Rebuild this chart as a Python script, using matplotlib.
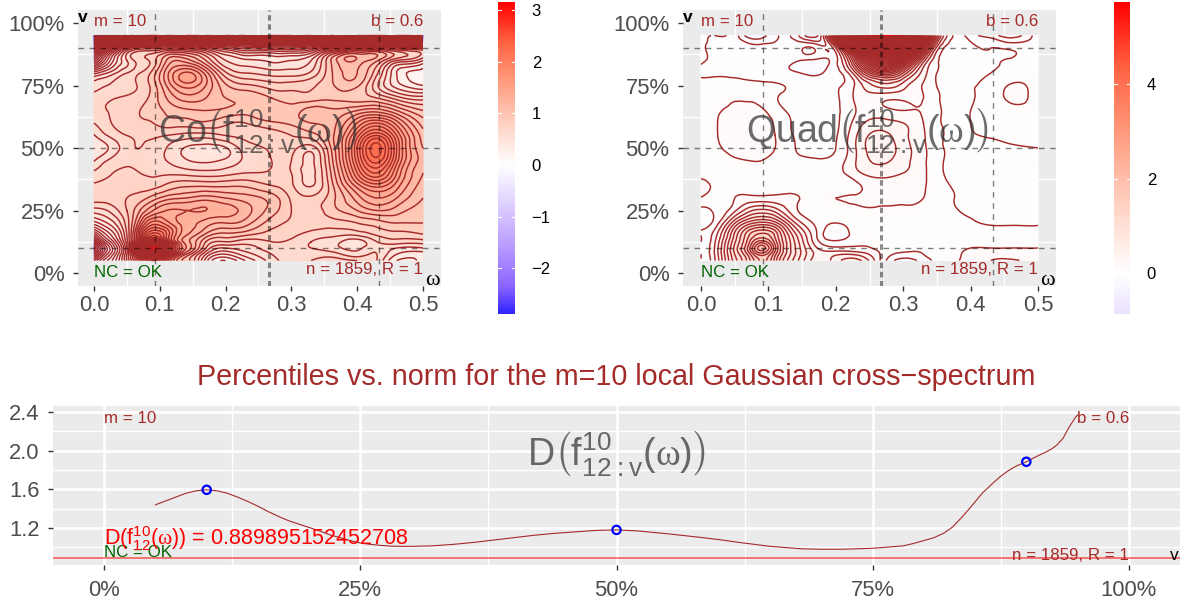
"""Local Gaussian cross-spectrum: Co and Quad heatmaps over the percentile norm plot."""

import matplotlib

matplotlib.use("Agg")

import matplotlib.pyplot as plt
import matplotlib.tri as mtri
import numpy as np
from matplotlib.cm import ScalarMappable
from matplotlib.colors import LinearSegmentedColormap, Normalize

W, H = 1180, 606
BROWN = "#A52A2A"
PANEL = "#EBEBEB"
GREY = "#4D4D4D"

OMEGA = [0, 0.02, 0.05, 0.07, 0.09, 0.11, 0.14, 0.17, 0.2, 0.23, 0.27, 0.3, 0.33, 0.36, 0.4, 0.43, 0.46, 0.5]
LEVEL_V = [0.05, 0.075, 0.10, 0.125, 0.15, 0.20, 0.25, 0.30, 0.35, 0.40, 0.45, 0.50, 0.55, 0.60, 0.65, 0.70, 0.75, 0.80, 0.85, 0.90, 0.925, 0.95]

# one row per entry of LEVEL_V
CO_VALUES = [
    [-0.4, 0.0, 0.6, 1.3, 1.9, 1.4, 0.85, 0.35, 0.1, 0.3, 0.55, 0.65, 0.7, 0.75, 0.7, 0.6, 0.3, 0.35],
    [-0.8, -0.2, 0.6, 1.7, 2.55, 1.85, 1.0, 0.5, 0.3, 0.45, 0.6, 0.65, 0.65, 0.65, 0.55, 0.6, 0.4, 0.35],
    [-1.05, -0.3, 0.6, 2.2, 3.1, 2.35, 1.2, 0.7, 0.5, 0.55, 0.65, 0.65, 0.6, 0.55, 0.47, 0.58, 0.5, 0.5],
    [-0.7, -0.1, 0.65, 1.7, 2.55, 1.9, 1.15, 0.8, 0.7, 0.65, 0.7, 0.68, 0.6, 0.55, 0.45, 0.6, 0.65, 0.65],
    [-0.3, 0.1, 0.7, 1.45, 2.0, 1.7, 1.2, 0.95, 0.85, 0.8, 0.75, 0.72, 0.65, 0.62, 0.6, 0.7, 0.75, 0.78],
    [0.25, 0.4, 0.75, 1.2, 1.55, 1.45, 1.25, 1.15, 1.1, 1.05, 0.85, 0.78, 0.75, 0.75, 0.8, 0.85, 0.9, 0.9],
    [0.55, 0.6, 0.8, 1.0, 1.2, 1.3, 1.3, 1.3, 1.25, 1.15, 0.95, 0.8, 0.75, 0.85, 1.0, 1.1, 1.05, 0.95],
    [0.75, 0.75, 0.8, 0.85, 0.95, 1.05, 1.1, 1.15, 1.1, 1.05, 0.95, 0.78, 0.72, 0.85, 1.15, 1.3, 1.2, 1.0],
    [0.72, 0.74, 0.76, 0.76, 0.76, 0.82, 0.88, 0.88, 0.88, 0.88, 0.8, 0.72, 0.59, 0.85, 1.35, 1.55, 1.35, 1.05],
    [0.62, 0.68, 0.72, 0.7, 0.68, 0.68, 0.66, 0.64, 0.66, 0.7, 0.72, 0.7, 0.57, 0.9, 1.6, 1.9, 1.5, 1.1],
    [0.49, 0.6, 0.68, 0.68, 0.64, 0.6, 0.51, 0.48, 0.52, 0.62, 0.7, 0.7, 0.58, 0.95, 1.75, 2.15, 1.65, 1.15],
    [0.42, 0.49, 0.66, 0.7, 0.66, 0.6, 0.49, 0.46, 0.49, 0.65, 0.72, 0.74, 0.65, 1.0, 1.8, 2.25, 1.7, 1.1],
    [0.49, 0.6, 0.7, 0.72, 0.72, 0.7, 0.66, 0.65, 0.7, 0.72, 0.75, 0.8, 0.85, 1.05, 1.65, 2.0, 1.6, 1.05],
    [0.6, 0.68, 0.75, 0.78, 0.8, 0.85, 0.85, 0.88, 0.82, 0.8, 0.88, 0.92, 1.0, 1.05, 1.4, 1.6, 1.35, 0.95],
    [0.68, 0.7, 0.75, 0.8, 0.85, 0.92, 0.98, 1.0, 0.98, 0.95, 0.98, 0.95, 1.05, 1.02, 1.1, 1.15, 1.0, 0.8],
    [0.65, 0.68, 0.72, 0.75, 0.85, 1.0, 1.15, 1.1, 1.0, 0.98, 0.9, 0.85, 0.85, 0.88, 0.85, 0.8, 0.65, 0.55],
    [0.55, 0.6, 0.65, 0.72, 0.85, 1.1, 1.35, 1.2, 0.92, 0.82, 0.75, 0.75, 0.78, 0.88, 0.92, 0.62, 0.35, 0.2],
    [0.25, 0.4, 0.6, 0.7, 0.85, 1.15, 1.42, 1.15, 0.72, 0.6, 0.55, 0.55, 0.62, 0.88, 1.0, 0.72, 0.3, 0.15],
    [-0.5, 0.0, 0.5, 0.65, 0.75, 1.0, 1.05, 0.8, 0.5, 0.42, 0.38, 0.4, 0.5, 0.9, 1.08, 0.92, 0.6, 0.4],
    [-1.3, -0.6, 0.2, 0.42, 0.45, 0.5, 0.45, 0.3, 0.1, -0.05, -0.1, -0.1, 0.0, 0.25, 0.5, 0.55, 0.4, 0.35],
    [-2.0, -1.5, -0.8, -0.5, -0.4, -0.4, -0.5, -0.6, -0.7, -0.8, -0.9, -0.9, -0.8, -0.8, -0.7, -0.7, -0.8, -0.8],
    [-2.88, -2.6, -2.3, -2.1, -2.0, -2.0, -2.1, -2.2, -2.3, -2.4, -2.4, -2.4, -2.3, -2.3, -2.3, -2.3, -2.4, -2.6],
]

QUAD_VALUES = [
    [0.0, 0.18, 0.75, 1.05, 1.32, 1.05, 0.55, 0.25, 0.35, 0.45, 0.05, -0.15, -0.05, 0.05, 0.13, 0.2, 0.22, 0.13],
    [0.0, 0.2, 0.8, 1.13, 1.45, 1.13, 0.6, 0.28, 0.28, 0.28, 0.07, -0.03, 0.0, 0.05, 0.12, 0.15, 0.14, 0.12],
    [0.0, 0.2, 0.83, 1.23, 1.65, 1.23, 0.6, 0.22, 0.12, 0.12, 0.07, 0.04, 0.03, 0.06, 0.1, 0.1, 0.1, 0.1],
    [0.0, 0.18, 0.78, 1.15, 1.45, 1.15, 0.58, 0.15, 0.02, 0.08, 0.08, 0.07, 0.07, 0.07, 0.07, 0.07, 0.07, 0.07],
    [0.0, 0.15, 0.73, 1.08, 1.25, 1.08, 0.53, 0.12, -0.08, 0.05, 0.07, 0.07, 0.06, 0.05, 0.05, 0.05, 0.05, 0.05],
    [-0.02, 0.03, 0.49, 0.74, 0.83, 0.74, 0.3, 0.08, 0.0, 0.06, 0.07, 0.07, 0.06, 0.04, 0.01, -0.01, -0.01, -0.01],
    [-0.02, 0.01, 0.18, 0.36, 0.43, 0.36, 0.12, 0.06, 0.07, 0.08, 0.09, 0.09, 0.08, 0.03, -0.01, -0.02, -0.02, -0.02],
    [0.09, 0.05, 0.1, 0.13, 0.13, 0.13, 0.11, 0.08, 0.1, 0.11, 0.11, 0.11, 0.1, 0.03, -0.02, -0.03, -0.03, -0.03],
    [0.15, 0.08, 0.05, 0.05, 0.05, 0.05, 0.05, 0.04, 0.05, 0.08, 0.15, 0.14, 0.11, 0.02, -0.02, -0.04, -0.04, -0.04],
    [0.05, 0.05, 0.05, 0.06, 0.07, 0.06, 0.05, 0.04, 0.06, 0.17, 0.24, 0.2, 0.12, 0.0, -0.03, -0.05, -0.05, -0.04],
    [0.04, 0.06, 0.09, 0.1, 0.1, 0.07, 0.02, 0.01, 0.04, 0.2, 0.32, 0.24, 0.12, 0.0, -0.03, -0.05, -0.06, -0.04],
    [0.03, 0.08, 0.12, 0.13, 0.13, 0.1, 0.0, -0.03, 0.0, 0.2, 0.36, 0.25, 0.12, 0.0, -0.02, -0.03, -0.02, 0.0],
    [0.03, 0.09, 0.13, 0.14, 0.14, 0.1, -0.01, -0.04, -0.01, 0.19, 0.33, 0.23, 0.11, 0.0, -0.01, 0.01, 0.03, 0.03],
    [0.03, 0.09, 0.13, 0.14, 0.13, 0.09, -0.02, -0.05, -0.02, 0.14, 0.24, 0.2, 0.1, -0.01, 0.0, 0.03, 0.04, 0.03],
    [0.04, 0.08, 0.12, 0.12, 0.11, 0.05, -0.03, -0.05, -0.02, 0.1, 0.13, 0.1, 0.09, -0.01, 0.0, 0.03, 0.07, 0.05],
    [0.04, 0.05, 0.09, 0.09, 0.07, 0.01, -0.03, -0.05, -0.02, 0.12, 0.13, 0.12, 0.1, -0.02, -0.01, 0.04, 0.12, 0.05],
    [0.05, 0.05, 0.04, 0.03, 0.02, 0.01, -0.02, -0.05, -0.02, 0.12, 0.35, 0.25, 0.09, -0.03, -0.01, 0.03, 0.11, 0.05],
    [-0.02, -0.02, -0.02, -0.03, -0.04, -0.06, -0.09, -0.12, -0.04, 0.3, 0.9, 0.6, 0.15, -0.03, -0.02, 0.0, 0.04, 0.04],
    [0.02, -0.02, -0.02, -0.03, -0.03, -0.05, -0.09, -0.12, -0.03, 0.7, 2.0, 1.4, 0.35, -0.03, -0.03, -0.01, 0.01, 0.02],
    [0.02, -0.02, -0.02, -0.06, -0.05, -0.04, -0.03, -0.02, 0.1, 1.8, 3.6, 3.0, 1.0, 0.0, -0.03, 0.0, 0.02, 0.03],
    [0.02, -0.01, -0.04, -0.12, -0.14, -0.1, -0.08, -0.18, 0.5, 3.0, 5.0, 4.2, 1.5, 0.1, 0.0, 0.04, 0.12, 0.04],
    [0.02, 0.0, -0.05, -0.25, -0.25, -0.12, -0.15, -0.35, 1.0, 3.8, 5.74, 5.0, 2.0, 0.2, 0.05, 0.15, 0.25, 0.03],
]

CO_LIMITS = (-2.88, 3.15)
QUAD_LIMITS = (-0.87, 5.74)
CO_TICKS = [-2, -1, 0, 1, 2, 3]
QUAD_TICKS = [0, 2, 4]

NORM_V = [0.05, 0.06, 0.07, 0.08, 0.09, 0.10, 0.11, 0.12, 0.13, 0.14, 0.15, 0.16, 0.17, 0.18, 0.19, 0.20,
          0.21, 0.22, 0.23, 0.24, 0.25, 0.26, 0.27, 0.28, 0.29, 0.30, 0.32, 0.34, 0.36, 0.38, 0.40, 0.42,
          0.44, 0.46, 0.48, 0.50, 0.52, 0.55, 0.58, 0.60, 0.62, 0.65, 0.68, 0.70, 0.72, 0.75, 0.78, 0.79,
          0.80, 0.81, 0.82, 0.828, 0.837, 0.846, 0.857, 0.868, 0.875, 0.882, 0.89, 0.90, 0.91, 0.918, 0.925,
          0.93, 0.936, 0.941, 0.947, 0.95]
NORM_D = [1.44, 1.48, 1.52, 1.56, 1.585, 1.595, 1.585, 1.56, 1.52, 1.475, 1.425, 1.37, 1.32, 1.275, 1.24, 1.205,
          1.17, 1.13, 1.10, 1.07, 1.045, 1.03, 1.02, 1.012, 1.01, 1.01, 1.015, 1.03, 1.05, 1.075, 1.10, 1.125,
          1.145, 1.16, 1.175, 1.18, 1.17, 1.14, 1.105, 1.08, 1.05, 1.01, 0.985, 0.98, 0.98, 0.99, 1.015, 1.04,
          1.07, 1.10, 1.15, 1.21, 1.31, 1.42, 1.56, 1.67, 1.735, 1.79, 1.84, 1.885, 1.94, 1.98, 2.02,
          2.06, 2.13, 2.23, 2.33, 2.37]
POINT_V = [0.10, 0.50, 0.90]
POINT_D = [1.595, 1.18, 1.885]
D_VALUE = 0.889895152452708

plt.rcParams["font.family"] = ["Liberation Sans", "DejaVu Sans"]
plt.rcParams["mathtext.fontset"] = "custom"
plt.rcParams["mathtext.rm"] = "Liberation Sans"
plt.rcParams["mathtext.bf"] = "Liberation Serif"

# white through to saturated, like a Lab gradient
CMAP = LinearSegmentedColormap.from_list(
    "blue_white_red",
    ["#0000FF", "#8A64FF", "#B89CFF", "#DDCEFF", "#FFFFFF", "#FFD2C4", "#FF9E81", "#FF6545", "#FF0000"],
)


def px_axes(fig, left, right, top, bottom):
    return fig.add_axes([left / W, 1 - bottom / H, (right - left) / W, (bottom - top) / H])


def style_panel(ax, xmajor, xminor, ymajor, yminor):
    ax.set_facecolor(PANEL)
    ax.set_axisbelow(True)
    for spine in ax.spines.values():
        spine.set_visible(False)
    ax.set_xticks(xmajor)
    ax.set_xticks(xminor, minor=True)
    ax.set_yticks(ymajor)
    ax.set_yticks(yminor, minor=True)
    ax.grid(True, which="major", color="white", linewidth=1.9)
    ax.grid(True, which="minor", color="white", linewidth=1.0)
    ax.tick_params(which="major", length=3.8, width=1.0, color="#333333", labelcolor=GREY, labelsize=15.8, pad=3)
    ax.tick_params(axis="y", which="major", pad=6)
    ax.tick_params(which="minor", length=0)


def draw_heatmap(ax, values, limits, title, xlim):
    style_panel(ax, [0, 0.1, 0.2, 0.3, 0.4, 0.5], [0.05, 0.15, 0.25, 0.35, 0.45],
                [0, 0.25, 0.5, 0.75, 1.0], [0.125, 0.375, 0.625, 0.875])
    ax.set_xlim(*xlim)
    ax.set_ylim(-0.052, 1.052)
    ax.set_xticklabels(["0.0", "0.1", "0.2", "0.3", "0.4", "0.5"])
    ax.set_yticklabels(["0%", "25%", "50%", "75%", "100%"])

    gx, gy = np.meshgrid(OMEGA, LEVEL_V)
    tri = mtri.Triangulation(gx.ravel(), gy.ravel())
    fine_tri, fine_z = mtri.UniformTriRefiner(tri).refine_field(np.array(values).ravel(), subdiv=3)

    vmax = max(abs(limits[0]), abs(limits[1]))
    norm = Normalize(-vmax, vmax)
    ax.tripcolor(fine_tri, fine_z, shading="gouraud", cmap=CMAP, norm=norm, zorder=2)
    levels = np.round(np.arange(-3.0, 6.01, 0.1), 1)
    ax.tricontour(fine_tri, fine_z, levels=levels, colors=BROWN, linewidths=1.05, linestyles="solid", zorder=3)

    for v in (0.1, 0.5, 0.9):
        ax.axhline(v, color="black", alpha=0.5, linewidth=1.0, linestyle=(0, (4, 4)), zorder=4)
    for w in (0.0926, 0.4333):
        ax.axvline(w, color="black", alpha=0.5, linewidth=1.0, linestyle=(0, (4, 4)), zorder=4)
    ax.axvline(0.2667, color="black", alpha=0.45, linewidth=2.2, linestyle=(0, (1.8, 1.2)), zorder=4)

    ax.text(0.0, 1.008, "m = 10", color=BROWN, fontsize=12.2, va="center", ha="left", zorder=6)
    ax.text(0.5, 1.008, "b = 0.6", color=BROWN, fontsize=12.2, va="center", ha="right", zorder=6)
    ax.text(0.0, 0.004, "NC = OK", color="#006400", fontsize=12.2, va="center", ha="left", zorder=6)
    ax.text(0.5, 0.016, "n = 1859, R = 1", color=BROWN, fontsize=12.2, va="center", ha="right", zorder=6)
    ax.text(0.496, 0.565, title, color="#333333", alpha=0.72, fontsize=27, ha="center", va="center",
            transform=ax.transAxes, zorder=7)


def draw_colorbar(fig, left, right, limits, ticks):
    cax = px_axes(fig, left, right, 2, 314)
    vmax = max(abs(limits[0]), abs(limits[1]))
    cb = fig.colorbar(ScalarMappable(Normalize(-vmax, vmax), CMAP), cax=cax)
    cb.outline.set_visible(False)
    cax.set_ylim(*limits)
    cb.set_ticks(ticks)
    cb.set_ticklabels([str(t).replace("-", "\u2212") for t in ticks])
    cax.tick_params(length=0, labelsize=12, pad=12, labelcolor="black")
    for t in ticks:
        cax.plot([0, 0.2], [t, t], color="white", linewidth=0.8, transform=cax.get_yaxis_transform(), zorder=5)
        cax.plot([0.8, 1], [t, t], color="white", linewidth=0.8, transform=cax.get_yaxis_transform(), zorder=5)


def main():
    fig = plt.figure(figsize=(W / 100, H / 100), dpi=100)

    ax1 = px_axes(fig, 78, 441, 10, 286)
    draw_heatmap(ax1, CO_VALUES, CO_LIMITS,
                 r"$\mathrm{Co}\left(\mathrm{f}_{\mathrm{12{:}v}}^{\mathrm{10}}(\mathbf{\omega})\right)$",
                 (-0.0243, 0.5274))
    ax1.text(-0.017, 1.02, "v", fontsize=12.5, fontweight="bold", color="black", ha="center", va="center", zorder=6)
    ax1.text(0.5145, -0.025, r"$\mathbf{\omega}$", fontsize=16, color="black", ha="center", va="center", zorder=6)
    draw_colorbar(fig, 498, 515, CO_LIMITS, CO_TICKS)

    ax2 = px_axes(fig, 683, 1056, 10, 286)
    draw_heatmap(ax2, QUAD_VALUES, QUAD_LIMITS,
                 r"$\mathrm{Quad}\left(\mathrm{f}_{\mathrm{12{:}v}}^{\mathrm{10}}(\mathbf{\omega})\right)$",
                 (-0.0267, 0.5267))
    ax2.text(-0.019, 1.02, "v", fontsize=12.5, fontweight="bold", color="black", ha="center", va="center", zorder=6)
    ax2.text(0.5145, -0.025, r"$\mathbf{\omega}$", fontsize=16, color="black", ha="center", va="center", zorder=6)
    draw_colorbar(fig, 1114, 1130, QUAD_LIMITS, QUAD_TICKS)

    ax3 = px_axes(fig, 53, 1180, 406, 565)
    style_panel(ax3, [0, 0.25, 0.5, 0.75, 1.0], [0.125, 0.375, 0.625, 0.875],
                [1.2, 1.6, 2.0, 2.4], [1.0, 1.4, 1.8, 2.2])
    ax3.set_xlim(-0.05, 1.05)
    ax3.set_ylim(0.817, 2.462)
    ax3.set_xticklabels(["0%", "25%", "50%", "75%", "100%"])
    ax3.set_yticklabels(["1.2", "1.6", "2.0", "2.4"])
    ax3.tick_params(axis="x", which="major", pad=7)

    ax3.axhline(D_VALUE, color="red", alpha=0.6, linewidth=1.2, zorder=3)
    ax3.plot(NORM_V, NORM_D, color=BROWN, linewidth=0.8, zorder=3)
    ax3.scatter(POINT_V, POINT_D, s=36, facecolors="none", edgecolors="blue", linewidths=1.6, zorder=4)

    ax3.text(0.0, 2.33, "m = 10", color=BROWN, fontsize=12.2, va="center", ha="left")
    ax3.text(1.0, 2.33, "b = 0.6", color=BROWN, fontsize=12.2, va="center", ha="right")
    ax3.text(1.0, 0.99, "n = 1859, R = 1", color=BROWN, fontsize=12.2, va="top", ha="right")
    ax3.text(0.0, 0.95, "NC = OK", color="#006400", fontsize=12.2, va="center", ha="left")
    ax3.text(0.0, 1.09, r"$\mathrm{D}(\mathrm{f}_{\mathrm{12}}^{\mathrm{10}}(\mathbf{\omega}))$ = 0.889895152452708",
             color="red", fontsize=15.5, va="center", ha="left")
    ax3.text(1.044, 0.92, "v", fontsize=12.5, color="black", ha="center", va="center")
    ax3.text(0.5, 1.97, r"$\mathrm{D}\left(\mathrm{f}_{\mathrm{12{:}v}}^{\mathrm{10}}(\mathbf{\omega})\right)$",
             color="#333333", alpha=0.72, fontsize=27, ha="center", va="center")

    fig.text(616 / W, 1 - 377 / H, "Percentiles vs. norm for the m=10 local Gaussian cross\u2212spectrum",
             color=BROWN, fontsize=20.7, ha="center", va="center")

    fig.savefig("out.png", dpi=100)
    plt.close(fig)


if __name__ == "__main__":
    main()
